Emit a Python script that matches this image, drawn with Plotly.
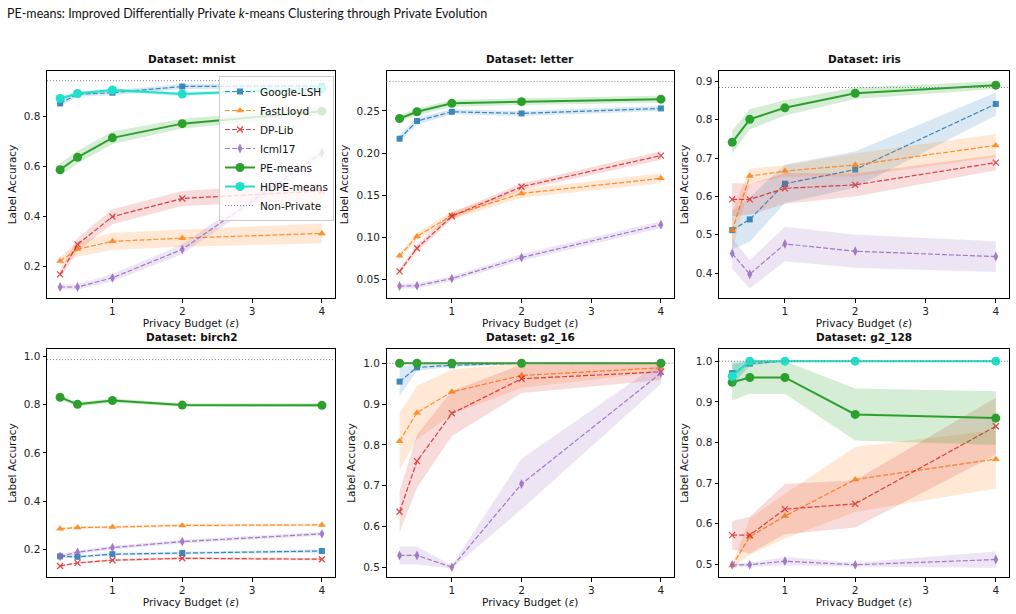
import plotly.graph_objects as go

# ---------------- data ----------------
eps = [0.25, 0.5, 1, 2, 4]
methods = ["Google-LSH", "FastLloyd", "DP-Lib", "Icml17", "PE-means", "HDPE-means"]
datasets = ["mnist", "letter", "iris", "birch2", "g2_16", "g2_128"]

mnist_mean = {
    "Google-LSH": [0.852, 0.889, 0.895, 0.920, 0.922],
    "FastLloyd": [0.220, 0.268, 0.299, 0.312, 0.331],
    "DP-Lib": [0.167, 0.287, 0.398, 0.471, 0.501],
    "Icml17": [0.116, 0.116, 0.153, 0.267, 0.654],
    "PE-means": [0.586, 0.636, 0.714, 0.771, 0.821],
    "HDPE-means": [0.872, 0.892, 0.906, 0.890, 0.911],
}
mnist_std = {
    "Google-LSH": [0.012, 0.010, 0.010, 0.010, 0.010],
    "FastLloyd": [0.015, 0.030, 0.035, 0.035, 0.040],
    "DP-Lib": [0.015, 0.025, 0.030, 0.030, 0.035],
    "Icml17": [0.010, 0.010, 0.015, 0.020, 0.020],
    "PE-means": [0.025, 0.025, 0.025, 0.020, 0.015],
    "HDPE-means": [0.010, 0.008, 0.008, 0.008, 0.008],
}

letter_mean = {
    "Google-LSH": [0.217, 0.238, 0.249, 0.247, 0.253],
    "FastLloyd": [0.078, 0.101, 0.126, 0.152, 0.170],
    "DP-Lib": [0.0595, 0.087, 0.125, 0.160, 0.197],
    "Icml17": [0.042, 0.0425, 0.051, 0.076, 0.115],
    "PE-means": [0.241, 0.249, 0.259, 0.261, 0.264],
}
letter_std = {
    "Google-LSH": [0.004, 0.004, 0.003, 0.003, 0.003],
    "FastLloyd": [0.003, 0.004, 0.005, 0.005, 0.006],
    "DP-Lib": [0.003, 0.004, 0.004, 0.004, 0.005],
    "Icml17": [0.003, 0.003, 0.003, 0.004, 0.004],
    "PE-means": [0.004, 0.004, 0.004, 0.004, 0.004],
}

iris_mean = {
    "Google-LSH": [0.512, 0.540, 0.633, 0.670, 0.841],
    "FastLloyd": [0.511, 0.653, 0.666, 0.682, 0.733],
    "DP-Lib": [0.592, 0.592, 0.621, 0.630, 0.688],
    "Icml17": [0.451, 0.397, 0.476, 0.457, 0.443],
    "PE-means": [0.741, 0.801, 0.831, 0.869, 0.890],
}
iris_std = {
    "Google-LSH": [0.050, 0.058, 0.050, 0.047, 0.030],
    "FastLloyd": [0.050, 0.020, 0.015, 0.030, 0.030],
    "DP-Lib": [0.043, 0.040, 0.040, 0.030, 0.020],
    "Icml17": [0.040, 0.037, 0.045, 0.043, 0.040],
    "PE-means": [0.030, 0.026, 0.020, 0.015, 0.010],
}

birch2_mean = {
    "Google-LSH": [0.172, 0.170, 0.181, 0.186, 0.194],
    "FastLloyd": [0.286, 0.291, 0.293, 0.300, 0.302],
    "DP-Lib": [0.132, 0.145, 0.156, 0.164, 0.160],
    "Icml17": [0.172, 0.189, 0.208, 0.233, 0.265],
    "PE-means": [0.830, 0.801, 0.817, 0.798, 0.797],
}
birch2_std = {
    "Google-LSH": [0.006, 0.006, 0.006, 0.006, 0.007],
    "FastLloyd": [0.006, 0.006, 0.006, 0.006, 0.006],
    "DP-Lib": [0.004, 0.004, 0.005, 0.005, 0.005],
    "Icml17": [0.006, 0.007, 0.008, 0.008, 0.008],
    "PE-means": [0.008, 0.010, 0.008, 0.008, 0.008],
}

g2_16_mean = {
    "Google-LSH": [0.955, 0.990, 0.995, 1.0, 1.0],
    "FastLloyd": [0.809, 0.879, 0.930, 0.970, 0.989],
    "DP-Lib": [0.636, 0.760, 0.877, 0.962, 0.979],
    "Icml17": [0.529, 0.529, 0.500, 0.704, 0.976],
    "PE-means": [1.0, 1.0, 1.0, 1.0, 1.0],
}
g2_16_std = {
    "Google-LSH": [0.035, 0.008, 0.004, 0.001, 0.001],
    "FastLloyd": [0.070, 0.065, 0.055, 0.030, 0.010],
    "DP-Lib": [0.050, 0.065, 0.055, 0.035, 0.020],
    "Icml17": [0.022, 0.022, 0.004, 0.062, 0.027],
    "PE-means": [0.002, 0.002, 0.002, 0.002, 0.002],
}

g2_128_mean = {
    "Google-LSH": [0.971, 0.994, 1.0, 1.0, 1.0],
    "FastLloyd": [0.497, 0.568, 0.619, 0.709, 0.759],
    "DP-Lib": [0.572, 0.572, 0.636, 0.649, 0.840],
    "Icml17": [0.499, 0.499, 0.508, 0.499, 0.512],
    "PE-means": [0.948, 0.960, 0.960, 0.869, 0.860],
    "HDPE-means": [0.963, 1.0, 1.0, 1.0, 1.0],
}
g2_128_std = {
    "Google-LSH": [0.030, 0.005, 0.001, 0.001, 0.001],
    "FastLloyd": [0.003, 0.045, 0.055, 0.080, 0.072],
    "DP-Lib": [0.035, 0.045, 0.062, 0.058, 0.070],
    "Icml17": [0.005, 0.005, 0.010, 0.005, 0.020],
    "PE-means": [0.045, 0.040, 0.040, 0.064, 0.066],
    "HDPE-means": [0.030, 0.002, 0.001, 0.001, 0.001],
}

non_private = [0.943, 0.285, 0.884, 0.986, 1.0, 1.0]

y_ranges = [[0.072, 0.982], [0.0279, 0.2974], [0.335, 0.927],
            [0.0865, 1.030], [0.476, 1.035], [0.469, 1.030]]
y_dticks = [0.2, 0.05, 0.1, 0.2, 0.1, 0.1]
y_formats = [".1f", ".2f", ".1f", ".1f", ".1f", ".1f"]

means = [mnist_mean, letter_mean, iris_mean, birch2_mean, g2_16_mean, g2_128_mean]
stds = [mnist_std, letter_std, iris_std, birch2_std, g2_16_std, g2_128_std]

# ---------------- styles ----------------
colors = {
    "Google-LSH": "#1f77b4", "FastLloyd": "#ff7f0e", "DP-Lib": "#d62728",
    "Icml17": "#9467bd", "PE-means": "#2ca02c", "HDPE-means": "#1fe0c8",
}
fills = {
    "Google-LSH": "rgba(31,119,180,0.17)", "FastLloyd": "rgba(255,127,14,0.17)",
    "DP-Lib": "rgba(214,39,40,0.17)", "Icml17": "rgba(148,103,189,0.17)",
    "PE-means": "rgba(44,160,44,0.2)", "HDPE-means": "rgba(31,224,200,0.2)",
}
symbols = {
    "Google-LSH": "square", "FastLloyd": "triangle-up", "DP-Lib": "x-thin",
    "Icml17": "diamond-tall", "PE-means": "circle", "HDPE-means": "circle",
}
msizes = {"Google-LSH": 6, "FastLloyd": 7, "DP-Lib": 6, "Icml17": 7,
          "PE-means": 9, "HDPE-means": 9}

FONT = "DejaVu Sans"
W, H = 1016, 614
col_px = [(47, 335), (386.5, 674), (719, 1009)]
row_px = [(71, 298), (349, 577)]

fig = go.Figure()
legend_done = set()

for i, ds in enumerate(datasets):
    r, c = divmod(i, 3)
    ax = "" if i == 0 else str(i + 1)
    xref, yref = "x" + ax, "y" + ax
    m, s = means[i], stds[i]
    for meth in methods:
        if meth not in m:
            continue
        lo = [a - b for a, b in zip(m[meth], s[meth])]
        hi = [a + b for a, b in zip(m[meth], s[meth])]
        fig.add_trace(go.Scatter(x=eps, y=lo, mode="lines", line=dict(width=0),
                                 hoverinfo="skip", showlegend=False,
                                 xaxis=xref, yaxis=yref))
        fig.add_trace(go.Scatter(x=eps, y=hi, mode="lines", line=dict(width=0),
                                 fill="tonexty", fillcolor=fills[meth],
                                 hoverinfo="skip", showlegend=False,
                                 xaxis=xref, yaxis=yref))
        solid = meth in ("PE-means", "HDPE-means")
        mk = dict(symbol=symbols[meth], size=msizes[meth], color=colors[meth])
        if meth == "DP-Lib":
            mk["line"] = dict(color=colors[meth], width=1.2)
        else:
            mk["line"] = dict(width=0)
        fig.add_trace(go.Scatter(
            x=eps, y=m[meth], mode="lines+markers", name=meth,
            line=dict(color=colors[meth], width=2 if solid else 1.2,
                      dash="solid" if solid else "5px,2px"),
            marker=mk, opacity=1.0 if solid else 0.85,
            showlegend=(meth not in legend_done),
            xaxis=xref, yaxis=yref))
        legend_done.add(meth)
    # non-private reference line
    fig.add_shape(type="line", xref=xref + " domain", yref=yref,
                  x0=0, x1=1, y0=non_private[i], y1=non_private[i],
                  line=dict(color="#808080", width=1, dash="1px,2px"))
    x0p, x1p = col_px[c]
    y0p, y1p = row_px[r]
    fig.update_layout({
        "xaxis" + ax: dict(domain=[x0p / W, x1p / W], anchor=yref,
                           range=[0.0625, 4.1875], tickvals=[1, 2, 3, 4],
                           title=dict(text="Privacy Budget (<i>ε</i>)", standoff=2,
                                      font=dict(size=10.5, family=FONT, color="#111"))),
        "yaxis" + ax: dict(domain=[1 - y1p / H, 1 - y0p / H], anchor=xref,
                           range=y_ranges[i], dtick=y_dticks[i], tickformat=y_formats[i],
                           title=dict(text="Label Accuracy", standoff=5,
                                      font=dict(size=10.5, family=FONT, color="#111"))),
    })
    fig.add_annotation(text="<b>Dataset: %s</b>" % ds, xref=xref + " domain", yref="paper",
                       x=0.5, y=1 - (y0p - 12) / H, showarrow=False, yanchor="middle",
                       font=dict(size=10.5, family=FONT, color="#111"))

# legend entry for non-private
fig.add_trace(go.Scatter(x=[None], y=[None], mode="lines", name="Non-Private",
                         line=dict(color="#808080", width=1, dash="1px,2px"),
                         xaxis="x", yaxis="y"))

fig.update_xaxes(showline=True, mirror=True, linecolor="black", linewidth=1,
                 ticks="outside", ticklen=3.5, tickcolor="black", showgrid=False,
                 zeroline=False, tickfont=dict(size=10.5, family=FONT, color="#222"))
fig.update_yaxes(showline=True, mirror=True, linecolor="black", linewidth=1,
                 ticks="outside", ticklen=3.5, tickcolor="black", showgrid=False,
                 zeroline=False, tickfont=dict(size=10.5, family=FONT, color="#222"))

fig.add_annotation(text="PE-means: Improved Differentially Private <i>k</i>-means Clustering through Private Evolution",
                   xref="paper", yref="paper", x=5 / W, y=1 - 13 / H, xanchor="left",
                   yanchor="middle", showarrow=False,
                   font=dict(size=12.5, family="Lato", color="#111"))

fig.update_layout(
    width=W, height=H, margin=dict(l=0, r=0, t=0, b=0),
    paper_bgcolor="white", plot_bgcolor="white",
    font=dict(family=FONT, size=10.5, color="#111"),
    legend=dict(x=334 / W, y=1 - 76 / H, xanchor="right", yanchor="top",
                traceorder="normal",
                bgcolor="rgba(255,255,255,0.8)", bordercolor="#cccccc", borderwidth=1,
                font=dict(size=10.5, family=FONT, color="#111"),
                tracegroupgap=0, itemwidth=30),
    showlegend=True,
)

fig.write_html("out.html")
